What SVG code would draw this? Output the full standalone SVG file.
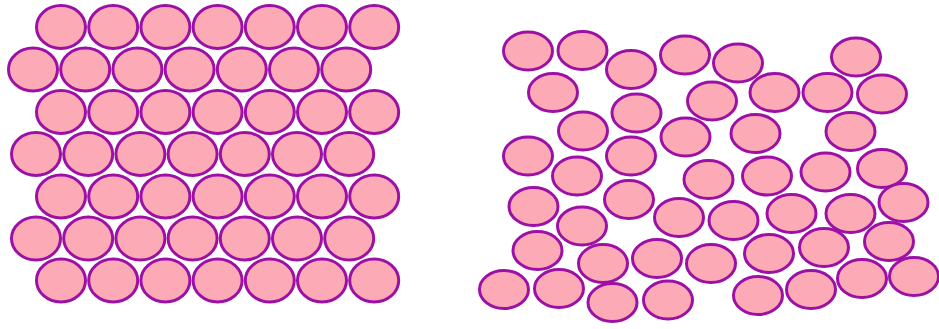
<svg xmlns="http://www.w3.org/2000/svg" width="939" height="329" viewBox="0 0 939 329">
<style>
.c{fill:#fcaab5;stroke:#9c10a6;stroke-width:3}
.o ellipse{rx:24.5px;ry:21.5px}
</style>
<rect width="939" height="329" fill="#fff"/>
<g id="ordered">
<g class="c o">
<ellipse cx="61" cy="27" rx="24.5" ry="21.5"/><ellipse cx="113.2" cy="27" rx="24.5" ry="21.5"/><ellipse cx="165.4" cy="27" rx="24.5" ry="21.5"/><ellipse cx="217.6" cy="27" rx="24.5" ry="21.5"/><ellipse cx="269.8" cy="27" rx="24.5" ry="21.5"/><ellipse cx="322" cy="27" rx="24.5" ry="21.5"/><ellipse cx="374.2" cy="27" rx="24.5" ry="21.5"/>
<ellipse cx="33" cy="69.5" rx="24.5" ry="21.5"/><ellipse cx="85.2" cy="69.5" rx="24.5" ry="21.5"/><ellipse cx="137.4" cy="69.5" rx="24.5" ry="21.5"/><ellipse cx="189.6" cy="69.5" rx="24.5" ry="21.5"/><ellipse cx="241.8" cy="69.5" rx="24.5" ry="21.5"/><ellipse cx="294" cy="69.5" rx="24.5" ry="21.5"/><ellipse cx="346.2" cy="69.5" rx="24.5" ry="21.5"/>
<ellipse cx="61" cy="112" rx="24.5" ry="21.5"/><ellipse cx="113.2" cy="112" rx="24.5" ry="21.5"/><ellipse cx="165.4" cy="112" rx="24.5" ry="21.5"/><ellipse cx="217.6" cy="112" rx="24.5" ry="21.5"/><ellipse cx="269.8" cy="112" rx="24.5" ry="21.5"/><ellipse cx="322" cy="112" rx="24.5" ry="21.5"/><ellipse cx="374.2" cy="112" rx="24.5" ry="21.5"/>
<ellipse cx="36" cy="154" rx="24.5" ry="21.5"/><ellipse cx="88.2" cy="154" rx="24.5" ry="21.5"/><ellipse cx="140.4" cy="154" rx="24.5" ry="21.5"/><ellipse cx="192.6" cy="154" rx="24.5" ry="21.5"/><ellipse cx="244.8" cy="154" rx="24.5" ry="21.5"/><ellipse cx="297" cy="154" rx="24.5" ry="21.5"/><ellipse cx="349.2" cy="154" rx="24.5" ry="21.5"/>
<ellipse cx="61" cy="196.5" rx="24.5" ry="21.5"/><ellipse cx="113.2" cy="196.5" rx="24.5" ry="21.5"/><ellipse cx="165.4" cy="196.5" rx="24.5" ry="21.5"/><ellipse cx="217.6" cy="196.5" rx="24.5" ry="21.5"/><ellipse cx="269.8" cy="196.5" rx="24.5" ry="21.5"/><ellipse cx="322" cy="196.5" rx="24.5" ry="21.5"/><ellipse cx="374.2" cy="196.5" rx="24.5" ry="21.5"/>
<ellipse cx="36" cy="238.5" rx="24.5" ry="21.5"/><ellipse cx="88.2" cy="238.5" rx="24.5" ry="21.5"/><ellipse cx="140.4" cy="238.5" rx="24.5" ry="21.5"/><ellipse cx="192.6" cy="238.5" rx="24.5" ry="21.5"/><ellipse cx="244.8" cy="238.5" rx="24.5" ry="21.5"/><ellipse cx="297" cy="238.5" rx="24.5" ry="21.5"/><ellipse cx="349.2" cy="238.5" rx="24.5" ry="21.5"/>
<ellipse cx="61" cy="280.5" rx="24.5" ry="21.5"/><ellipse cx="113.2" cy="280.5" rx="24.5" ry="21.5"/><ellipse cx="165.4" cy="280.5" rx="24.5" ry="21.5"/><ellipse cx="217.6" cy="280.5" rx="24.5" ry="21.5"/><ellipse cx="269.8" cy="280.5" rx="24.5" ry="21.5"/><ellipse cx="322" cy="280.5" rx="24.5" ry="21.5"/><ellipse cx="374.2" cy="280.5" rx="24.5" ry="21.5"/>
</g>
</g>
<g id="disordered">
<g class="c">
<ellipse cx="528" cy="51" rx="24.5" ry="19"/>
<ellipse cx="582.5" cy="50.5" rx="24.5" ry="19"/>
<ellipse cx="631" cy="69.5" rx="24.5" ry="19"/>
<ellipse cx="685" cy="55" rx="24.5" ry="19"/>
<ellipse cx="738" cy="63" rx="24.5" ry="19"/>
<ellipse cx="856" cy="57" rx="24.5" ry="19"/>
<ellipse cx="553" cy="92.5" rx="24.5" ry="19"/>
<ellipse cx="712" cy="101" rx="24.5" ry="19"/>
<ellipse cx="774.5" cy="92.5" rx="24.5" ry="19"/>
<ellipse cx="827.5" cy="92.5" rx="24.5" ry="19"/>
<ellipse cx="882" cy="94" rx="24.5" ry="19"/>
<ellipse cx="636.5" cy="113" rx="24.5" ry="19"/>
<ellipse cx="583" cy="131" rx="24.5" ry="19"/>
<ellipse cx="685.5" cy="137" rx="24.5" ry="19"/>
<ellipse cx="755.5" cy="133.5" rx="24.5" ry="19"/>
<ellipse cx="850.5" cy="131.5" rx="24.5" ry="19"/>
<ellipse cx="528" cy="156" rx="24.5" ry="19"/>
<ellipse cx="631" cy="156" rx="24.5" ry="19"/>
<ellipse cx="577" cy="176" rx="24.5" ry="19"/>
<ellipse cx="708.5" cy="179.5" rx="24.5" ry="19"/>
<ellipse cx="767" cy="176" rx="24.5" ry="19"/>
<ellipse cx="825.5" cy="172" rx="24.5" ry="19"/>
<ellipse cx="882" cy="168.5" rx="24.5" ry="19"/>
<ellipse cx="533.5" cy="206.5" rx="24.5" ry="19"/>
<ellipse cx="629" cy="199.5" rx="24.5" ry="19"/>
<ellipse cx="582" cy="226" rx="24.5" ry="19"/>
<ellipse cx="679" cy="217.5" rx="24.5" ry="19"/>
<ellipse cx="733.5" cy="220.5" rx="24.5" ry="19"/>
<ellipse cx="791.5" cy="213.5" rx="24.5" ry="19"/>
<ellipse cx="850.5" cy="213.5" rx="24.5" ry="19"/>
<ellipse cx="903.5" cy="202.5" rx="24.5" ry="19"/>
<ellipse cx="537.5" cy="250.5" rx="24.5" ry="19"/>
<ellipse cx="603" cy="263.5" rx="24.5" ry="19"/>
<ellipse cx="657" cy="258.5" rx="24.5" ry="19"/>
<ellipse cx="711" cy="263.5" rx="24.5" ry="19"/>
<ellipse cx="769" cy="253.5" rx="24.5" ry="19"/>
<ellipse cx="824" cy="247.5" rx="24.5" ry="19"/>
<ellipse cx="889" cy="241.5" rx="24.5" ry="19"/>
<ellipse cx="504" cy="289.5" rx="24.5" ry="19"/>
<ellipse cx="559" cy="288.5" rx="24.5" ry="19"/>
<ellipse cx="612.5" cy="302.5" rx="24.5" ry="19"/>
<ellipse cx="668" cy="300" rx="24.5" ry="19"/>
<ellipse cx="758" cy="295.5" rx="24.5" ry="19"/>
<ellipse cx="811" cy="289.5" rx="24.5" ry="19"/>
<ellipse cx="862" cy="278.5" rx="24.5" ry="19"/>
<ellipse cx="914" cy="276.5" rx="24.5" ry="19"/>
</g>
</g>
</svg>
